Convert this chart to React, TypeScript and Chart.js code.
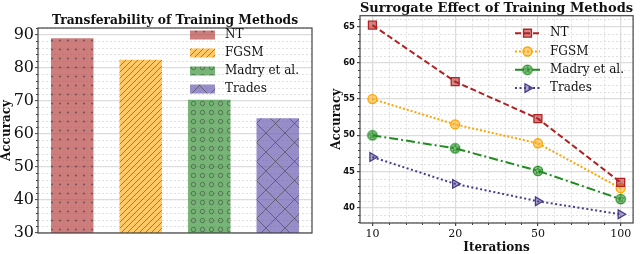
import React, { useEffect, useRef } from "react";
import { Chart, registerables } from "chart.js";

Chart.register(...registerables);

// ---------- data ----------
const BAR_CATEGORIES = ["NT", "FGSM", "Madry et al.", "Trades"];
const BAR_VALUES = [88.9, 82.4, 70.3, 64.7];
const BAR_Y_TICKS = [30, 40, 50, 60, 70, 80, 90];

const ITERATIONS = ["10", "20", "50", "100"];
const NT_VALUES = [65.2, 57.4, 52.3, 43.5];
const FGSM_VALUES = [55.0, 51.5, 48.9, 42.7];
const MADRY_VALUES = [50.0, 48.2, 45.1, 41.2];
const TRADES_VALUES = [47.0, 43.3, 40.9, 39.1];
const LINE_Y_TICKS = [40, 45, 50, 55, 60, 65];

const SERIF = '"DejaVu Serif", serif';
const TEXT = "#111";
const SPINE = "#444";
const GRID = "#dcdcdc";

// ---------- helpers ----------
function makePattern(ctx: CanvasRenderingContext2D, fill: string, kind: string) {
  const sizes: Record<string, [number, number]> = {
    dots: [8, 9],
    diag: [6, 6],
    rings: [9, 9],
    cross: [19, 19],
  };
  const [w, h] = sizes[kind];
  const c = document.createElement("canvas");
  c.width = w;
  c.height = h;
  const g = c.getContext("2d")!;
  g.fillStyle = fill;
  g.fillRect(0, 0, w, h);
  g.strokeStyle = "rgba(60,60,60,0.6)";
  g.fillStyle = "rgba(60,60,60,0.6)";
  g.lineWidth = 0.9;
  g.beginPath();
  if (kind === "dots") {
    g.arc(w / 2, h / 2, 1.1, 0, Math.PI * 2);
    g.fill();
  } else if (kind === "diag") {
    for (const o of [-w, 0, w]) {
      g.moveTo(o, h);
      g.lineTo(o + w, 0);
    }
    g.stroke();
  } else if (kind === "rings") {
    g.arc(w / 2, h / 2, 2.2, 0, Math.PI * 2);
    g.stroke();
  } else if (kind === "cross") {
    g.moveTo(0, 0);
    g.lineTo(w, h);
    g.moveTo(w, 0);
    g.lineTo(0, h);
    g.stroke();
  }
  return ctx.createPattern(c, "repeat")!;
}

function makeStarMarker(color: string, fill: string) {
  const s = 12;
  const c = document.createElement("canvas");
  c.width = s;
  c.height = s;
  const g = c.getContext("2d")!;
  g.beginPath();
  g.arc(s / 2, s / 2, 4.6, 0, Math.PI * 2);
  g.fillStyle = fill;
  g.fill();
  g.lineWidth = 1.3;
  g.strokeStyle = color;
  g.stroke();
  g.beginPath();
  for (let i = 0; i < 10; i++) {
    const r = i % 2 === 0 ? 3.4 : 1.5;
    const a = -Math.PI / 2 + (i * Math.PI) / 5;
    const x = s / 2 + r * Math.cos(a);
    const y = s / 2 + r * Math.sin(a);
    if (i === 0) g.moveTo(x, y);
    else g.lineTo(x, y);
  }
  g.closePath();
  g.lineWidth = 0.9;
  g.stroke();
  return c;
}

function drawMarker(ctx: CanvasRenderingContext2D, ds: any, x: number, y: number) {
  const style = ds.pointStyle;
  const r = ds.pointRadius;
  ctx.save();
  ctx.setLineDash([]);
  ctx.fillStyle = ds.pointBackgroundColor;
  ctx.strokeStyle = ds.pointBorderColor;
  ctx.lineWidth = ds.pointBorderWidth;
  if (style instanceof HTMLCanvasElement) {
    ctx.drawImage(style, x - style.width / 2, y - style.height / 2);
  } else if (style === "rect") {
    const h = Math.SQRT1_2 * r;
    ctx.beginPath();
    ctx.rect(x - h, y - h, 2 * h, 2 * h);
    ctx.fill();
    ctx.stroke();
  } else if (style === "circle") {
    ctx.beginPath();
    ctx.arc(x, y, r, 0, Math.PI * 2);
    ctx.fill();
    ctx.stroke();
  } else if (style === "triangle") {
    ctx.translate(x, y);
    ctx.rotate(((ds.rotation || 0) * Math.PI) / 180);
    ctx.beginPath();
    const a = -Math.PI / 2;
    for (let i = 0; i < 3; i++) {
      const ang = a + (i * 2 * Math.PI) / 3;
      const px = r * Math.cos(ang);
      const py = r * Math.sin(ang);
      if (i === 0) ctx.moveTo(px, py);
      else ctx.lineTo(px, py);
    }
    ctx.closePath();
    ctx.fill();
    ctx.stroke();
  }
  ctx.restore();
}

function range(from: number, to: number, step: number) {
  const out: number[] = [];
  for (let v = from; v <= to + 1e-9; v += step) out.push(Math.round(v * 1000) / 1000);
  return out;
}

// minor dashed grid + minor ticks + frame + title
function decorPlugin(opts: {
  id: string;
  title: string;
  titleY: number;
  titleSize: number;
  minorY: number[];
  minorX?: number[];
}) {
  return {
    id: opts.id,
    beforeDatasetsDraw(chart: any) {
      const { ctx, chartArea: a, scales } = chart;
      ctx.save();
      ctx.strokeStyle = "rgba(200,200,200,0.7)";
      ctx.lineWidth = 0.8;
      ctx.setLineDash([2, 2]);
      for (const v of opts.minorY) {
        const y = Math.round(scales.y.getPixelForValue(v)) + 0.5;
        if (y < a.top || y > a.bottom) continue;
        ctx.beginPath();
        ctx.moveTo(a.left, y);
        ctx.lineTo(a.right, y);
        ctx.stroke();
      }
      for (const v of opts.minorX || []) {
        const x = Math.round(scales.x.getPixelForValue(v)) + 0.5;
        if (x < a.left || x > a.right) continue;
        ctx.beginPath();
        ctx.moveTo(x, a.top);
        ctx.lineTo(x, a.bottom);
        ctx.stroke();
      }
      ctx.restore();
    },
    afterDraw(chart: any) {
      const { ctx, chartArea: a, scales } = chart;
      ctx.save();
      // minor ticks
      ctx.strokeStyle = SPINE;
      ctx.lineWidth = 1;
      for (const v of opts.minorY) {
        const y = Math.round(scales.y.getPixelForValue(v)) + 0.5;
        if (y < a.top || y > a.bottom) continue;
        ctx.beginPath();
        ctx.moveTo(a.left - 2, y);
        ctx.lineTo(a.left, y);
        ctx.stroke();
      }
      for (const v of opts.minorX || []) {
        const x = Math.round(scales.x.getPixelForValue(v)) + 0.5;
        if (x < a.left || x > a.right) continue;
        ctx.beginPath();
        ctx.moveTo(x, a.bottom);
        ctx.lineTo(x, a.bottom + 2);
        ctx.stroke();
      }
      // frame
      ctx.lineWidth = 1.2;
      ctx.strokeStyle = SPINE;
      ctx.strokeRect(a.left, a.top, a.right - a.left, a.bottom - a.top);
      // title
      ctx.fillStyle = TEXT;
      ctx.font = `bold ${opts.titleSize}px ${SERIF}`;
      ctx.textAlign = "center";
      ctx.textBaseline = "middle";
      ctx.fillText(opts.title, (a.left + a.right) / 2, opts.titleY);
      ctx.restore();
    },
  };
}

const noPadX = (h: number) => (s: any) => {
  s.height = h;
  s.paddingLeft = 0;
  s.paddingRight = 0;
};
const noPadY = (w: number) => (s: any) => {
  s.width = w;
  s.paddingTop = 0;
  s.paddingBottom = 0;
};

// ---------- bar chart ----------
function BarChart() {
  const ref = useRef<HTMLCanvasElement>(null);
  useEffect(() => {
    const canvas = ref.current!;
    const ctx = canvas.getContext("2d")!;
    const patterns = [
      makePattern(ctx, "rgba(185,70,70,0.7)", "dots"),
      makePattern(ctx, "rgba(255,178,40,0.7)", "diag"),
      makePattern(ctx, "rgba(60,150,60,0.7)", "rings"),
      makePattern(ctx, "rgba(105,92,178,0.7)", "cross"),
    ];
    const legendPlugin = {
      id: "barLegend",
      afterDraw(chart: any) {
        const c = chart.ctx;
        const a = chart.chartArea;
        c.save();
        BAR_CATEGORIES.forEach((label, i) => {
          const y = a.top + 7 + i * 18;
          const x = a.left + 152;
          c.fillStyle = patterns[i];
          c.fillRect(x, y - 4.5, 25, 9);
          c.fillStyle = TEXT;
          c.font = `12px ${SERIF}`;
          c.textAlign = "left";
          c.textBaseline = "middle";
          c.fillText(label, x + 35, y);
        });
        c.restore();
      },
    };
    const chart = new Chart(ctx, {
      type: "bar",
      data: {
        labels: BAR_CATEGORIES,
        datasets: [
          {
            label: "Accuracy",
            data: BAR_VALUES,
            backgroundColor: patterns,
            borderWidth: 0,
            barPercentage: 0.62,
            categoryPercentage: 1,
          },
        ],
      },
      options: {
        responsive: false,
        animation: false,
        layout: { padding: { left: 0, right: 8, top: 28, bottom: 21 } },
        plugins: {
          legend: { display: false },
          tooltip: { enabled: false },
          title: { display: false },
        },
        scales: {
          x: { display: false },
          y: {
            min: 30,
            max: 92,
            afterFit: noPadY(38),
            afterBuildTicks: (s: any) => {
              s.ticks = BAR_Y_TICKS.map((v) => ({ value: v }));
            },
            ticks: {
              font: { family: SERIF, size: 16 },
              color: TEXT,
              padding: 1,
            },
            grid: {
              color: GRID,
              lineWidth: 1.2,
              tickLength: 3,
              tickColor: SPINE,
              tickWidth: 1,
            },
            border: { display: false },
            title: {
              display: true,
              text: "Accuracy",
              color: TEXT,
              font: { family: SERIF, size: 12, weight: "bold" },
              padding: { top: 0, bottom: 0 },
            },
          },
        },
      } as any,
      plugins: [
        decorPlugin({
          id: "barDecor",
          title: "Transferability of Training Methods",
          titleY: 21,
          titleSize: 12.3,
          minorY: range(30, 92, 2).filter((v) => v % 10 !== 0),
        }),
        legendPlugin,
      ],
    });
    return () => chart.destroy();
  }, []);
  return (
    <canvas
      ref={ref}
      width={320}
      height={254}
      style={{ position: "absolute", left: 0, top: 0, width: 320, height: 254 }}
    />
  );
}

// ---------- line chart ----------
function LineChart() {
  const ref = useRef<HTMLCanvasElement>(null);
  useEffect(() => {
    const canvas = ref.current!;
    const ctx = canvas.getContext("2d")!;
    const starMarker = makeStarMarker("#228b22", "rgba(34,139,34,0.45)");
    const toPts = (vals: number[]) => vals.map((y, i) => ({ x: i, y }));
    const datasets: any[] = [
      {
        label: "NT",
        data: toPts(NT_VALUES),
        borderColor: "#b22222",
        borderWidth: 2,
        borderDash: [6, 3],
        pointStyle: "rect",
        pointRadius: 5.6,
        pointBackgroundColor: "rgba(178,34,34,0.55)",
        pointBorderColor: "#b22222",
        pointBorderWidth: 1.3,
      },
      {
        label: "FGSM",
        data: toPts(FGSM_VALUES),
        borderColor: "#ffa500",
        borderWidth: 2,
        borderDash: [2, 2],
        pointStyle: "circle",
        pointRadius: 4.5,
        pointBackgroundColor: "rgba(255,165,0,0.5)",
        pointBorderColor: "#ffa500",
        pointBorderWidth: 1.3,
      },
      {
        label: "Madry et al.",
        data: toPts(MADRY_VALUES),
        borderColor: "#228b22",
        borderWidth: 2,
        borderDash: [9, 3, 2, 3],
        pointStyle: starMarker,
        pointRadius: 4.5,
        pointBackgroundColor: "rgba(34,139,34,0.45)",
        pointBorderColor: "#228b22",
        pointBorderWidth: 1.3,
      },
      {
        label: "Trades",
        data: toPts(TRADES_VALUES),
        borderColor: "#483d8b",
        borderWidth: 2,
        borderDash: [2, 2.5],
        pointStyle: "triangle",
        rotation: 90,
        pointRotation: 90,
        pointRadius: 5,
        pointBackgroundColor: "rgba(72,61,139,0.45)",
        pointBorderColor: "#483d8b",
        pointBorderWidth: 1.3,
      },
    ];
    const legendPlugin = {
      id: "lineLegend",
      afterDraw(chart: any) {
        const c = chart.ctx;
        const a = chart.chartArea;
        c.save();
        chart.data.datasets.forEach((ds: any, i: number) => {
          const y = a.top + 17.5 + i * 18.3;
          const x0 = a.left + 155;
          c.strokeStyle = ds.borderColor;
          c.lineWidth = ds.borderWidth;
          c.setLineDash(ds.borderDash);
          c.beginPath();
          c.moveTo(x0, y);
          c.lineTo(x0 + 25, y);
          c.stroke();
          drawMarker(c, { ...ds, rotation: ds.pointRotation }, x0 + 12.5, y);
          c.setLineDash([]);
          c.fillStyle = TEXT;
          c.font = `12px ${SERIF}`;
          c.textAlign = "left";
          c.textBaseline = "middle";
          c.fillText(ds.label, x0 + 35, y);
        });
        c.restore();
      },
    };
    const chart = new Chart(ctx, {
      type: "line",
      data: { datasets },
      options: {
        responsive: false,
        animation: false,
        layout: { padding: { left: 0, right: 3, top: 15.7, bottom: 0 } },
        plugins: {
          legend: { display: false },
          tooltip: { enabled: false },
          title: { display: false },
        },
        elements: { line: { tension: 0, fill: false } },
        scales: {
          x: {
            type: "linear",
            min: -0.15,
            max: 3.15,
            afterFit: noPadX(31),
            afterBuildTicks: (s: any) => {
              s.ticks = ITERATIONS.map((_, i) => ({ value: i }));
            },
            ticks: {
              callback: (_v: any, i: number) => ITERATIONS[i],
              font: { family: SERIF, size: 11 },
              color: TEXT,
              padding: 2,
              maxRotation: 0,
              autoSkip: false,
            },
            grid: {
              color: GRID,
              lineWidth: 1.2,
              tickLength: 3,
              tickColor: SPINE,
            },
            border: { display: false },
            title: {
              display: true,
              text: "Iterations",
              color: TEXT,
              font: { family: SERIF, size: 12, weight: "bold", lineHeight: 1 },
              padding: { top: 0, bottom: 0 },
            },
          },
          y: {
            min: 37.9,
            max: 66.5,
            afterFit: noPadY(40),
            afterBuildTicks: (s: any) => {
              s.ticks = LINE_Y_TICKS.map((v) => ({ value: v }));
            },
            ticks: {
              font: { family: '"DejaVu Sans", sans-serif', size: 8.5, weight: "bold" },
              color: TEXT,
              padding: 2,
            },
            grid: {
              color: GRID,
              lineWidth: 1.2,
              tickLength: 3,
              tickColor: SPINE,
            },
            border: { display: false },
            title: {
              display: true,
              text: "Accuracy",
              color: TEXT,
              font: { family: SERIF, size: 12, weight: "bold" },
              padding: { top: 9.5, bottom: 0 },
            },
          },
        },
      } as any,
      plugins: [
        decorPlugin({
          id: "lineDecor",
          title: "Surrogate Effect of Training Methods",
          titleY: 9,
          titleSize: 13,
          minorY: range(38, 66, 1).filter((v) => v % 5 !== 0),
          minorX: range(-0.2, 3.2, 0.2).filter((v) => Math.abs(v - Math.round(v)) > 1e-6),
        }),
        legendPlugin,
      ],
    });
    return () => chart.destroy();
  }, []);
  return (
    <canvas
      ref={ref}
      width={320}
      height={254}
      style={{ position: "absolute", left: 320, top: 0, width: 320, height: 254 }}
    />
  );
}

export default function App() {
  return (
    <div style={{ position: "fixed", left: 0, top: 0, width: 640, height: 254, background: "#fff" }}>
      <BarChart />
      <LineChart />
    </div>
  );
}
